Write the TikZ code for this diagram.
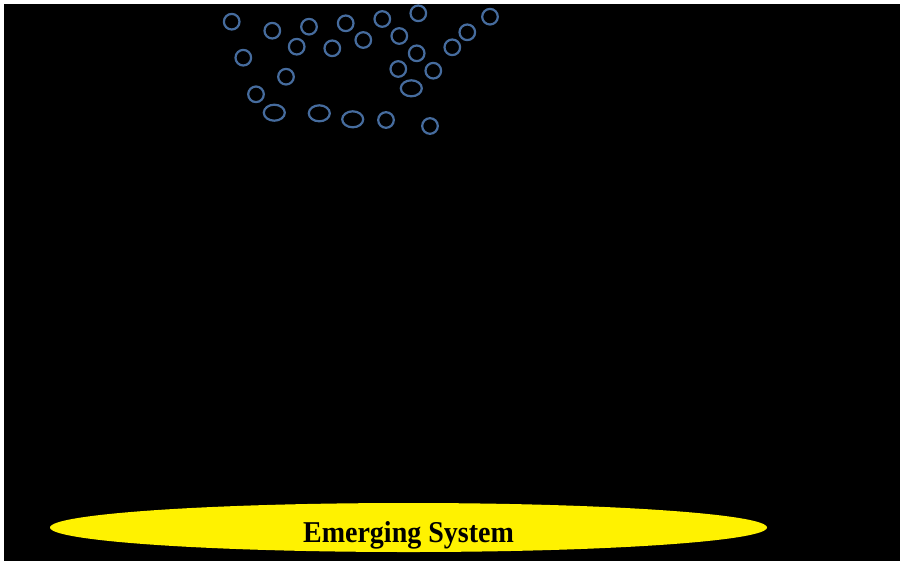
\documentclass[tikz,border=0pt]{standalone}
\usepackage{fontspec}
\setmainfont{Liberation Serif}
\usetikzlibrary{shapes.geometric}
\definecolor{partblue}{RGB}{70,108,158}

\begin{document}
\begin{tikzpicture}[x=1pt,y=-1pt,
                    part/.style={draw=partblue,line width=2.2pt,circle,inner sep=0pt,minimum size=15.6pt},
                    oval/.style={draw=partblue,line width=2.2pt,ellipse,inner sep=0pt,minimum width=21pt,minimum height=16pt},
                    system/.style={ellipse,fill=yellow,minimum width=717pt,minimum height=49pt}]
      \useasboundingbox (0,0) rectangle (901,563);
      \fill[black] (4,4) rectangle (900,561);

      \node[part] (p1) at (231.7,21.7) {};
      \node[part] (p2) at (272.3,30.7) {};
      \node[part] (p3) at (309,26.7) {};
      \node[part] (p4) at (345.7,23.3) {};
      \node[part] (p5) at (382.3,19) {};
      \node[part] (p6) at (418.3,13.3) {};
      \node[part] (p7) at (490,16.7) {};
      \node[part] (p8) at (467.3,32.3) {};
      \node[part] (p9) at (452.3,47.3) {};
      \node[part] (p10) at (399.3,36) {};
      \node[part] (p11) at (363.3,40) {};
      \node[part] (p12) at (332.3,48.3) {};
      \node[part] (p13) at (296.7,46.7) {};
      \node[part] (p14) at (243.3,57.7) {};
      \node[part] (p15) at (416.7,53.3) {};
      \node[part] (p16) at (398.3,69) {};
      \node[part] (p17) at (433.3,70.7) {};
      \node[part] (p18) at (286,76.7) {};
      \node[part] (p19) at (256,94.3) {};
      \node[part] (p20) at (386,120) {};
      \node[part] (p21) at (430,126) {};
      \node[oval] (o1) at (411.3,88.3) {};
      \node[oval] (o2) at (274.3,112.7) {};
      \node[oval] (o3) at (319.3,113.3) {};
      \node[oval] (o4) at (352.7,119.3) {};

      \node[system] (emerging) at (408.5,527.5) {};
      \node[anchor=base,yscale=1.08,transform shape,font=\fontsize{28}{30}\selectfont\bfseries] (emergingtext) at (408.5,542.7) {Emerging System};
    \end{tikzpicture}
\end{document}
